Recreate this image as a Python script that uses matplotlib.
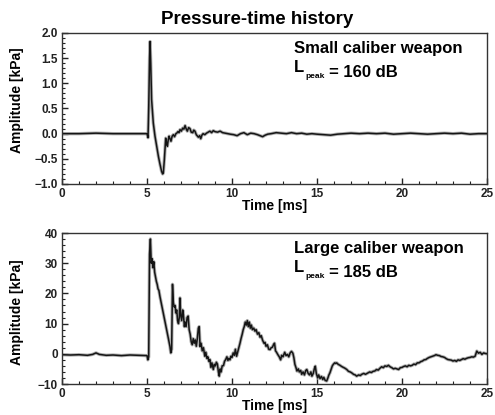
import matplotlib
matplotlib.use("Agg")
import matplotlib.pyplot as plt
from matplotlib.ticker import MultipleLocator

plt.rcParams["font.family"] = ["Liberation Sans", "DejaVu Sans"]
plt.rcParams["font.weight"] = "bold"

# small caliber weapon: time [ms], pressure [kPa]
t_small = [0.0, 1.0, 2.0, 3.0, 4.0, 5.0, 5.06, 5.1, 5.15, 5.18, 5.22, 5.27, 5.37,
           5.47, 5.57, 5.67, 5.76, 5.86, 5.92, 5.96, 6.02, 6.1, 6.15, 6.2, 6.25,
           6.3, 6.35, 6.41, 6.48, 6.55, 6.62, 6.7, 6.75, 6.82, 6.88, 6.94, 7.02,
           7.1, 7.17, 7.24, 7.3, 7.37, 7.45, 7.53, 7.6, 7.69, 7.75, 7.82, 7.9,
           8.02, 8.1, 8.16, 8.23, 8.3, 8.4, 8.5, 8.6, 8.7, 8.8, 8.9, 9.0, 9.15,
           9.3, 9.45, 9.6, 9.75, 9.9, 10.1, 10.3, 10.5, 10.7, 10.9, 11.1, 11.3,
           11.5, 11.65, 11.8, 11.95, 12.1, 12.3, 12.6, 12.9, 13.2, 13.5, 13.8,
           14.1, 14.4, 14.7, 15.0, 15.4, 15.8, 16.2, 16.6, 17.0, 17.5, 18.0,
           18.5, 19.0, 19.5, 20.0, 20.5, 21.0, 21.5, 22.0, 22.5, 23.0, 23.5,
           24.0, 24.5, 25.0]
p_small = [0.0, 0.0, 0.01, 0.0, 0.0, 0.0, -0.08, 0.5, 1.5, 1.83, 1.4, 0.68, 0.21,
           -0.05, -0.25, -0.45, -0.6, -0.75, -0.8, -0.78, -0.52, -0.09, -0.18,
           -0.25, -0.12, -0.05, -0.1, -0.15, -0.05, -0.02, -0.06, 0.0, 0.01,
           0.04, 0.02, 0.08, 0.05, 0.11, 0.09, 0.16, 0.1, 0.05, 0.12, 0.1, 0.03,
           0.02, 0.07, 0.05, -0.02, -0.07, -0.04, -0.1, -0.03, 0.0, -0.02, 0.01,
           0.03, 0.05, 0.02, 0.06, 0.04, 0.03, 0.05, 0.02, 0.01, 0.0, -0.01,
           -0.02, -0.04, 0.0, 0.02, -0.02, 0.01, 0.0, -0.02, -0.04, -0.06,
           -0.03, -0.01, 0.0, 0.02, 0.01, 0.0, 0.02, 0.0, 0.01, -0.01, 0.0,
           -0.01, -0.02, -0.03, -0.01, 0.0, 0.01, 0.0, 0.01, 0.0, 0.01, -0.01,
           0.0, 0.01, 0.0, -0.01, 0.0, 0.01, 0.0, 0.01, -0.01, 0.0, 0.0]

# large caliber weapon: time [ms], pressure [kPa]
t_large = [0.0, 0.5, 1.0, 1.5, 1.8, 2.0, 2.2, 2.6, 3.0, 3.5, 4.0, 4.5, 5.0, 5.05,
           5.1, 5.15, 5.2, 5.25, 5.3, 5.35, 5.4, 5.45, 5.5, 5.55, 5.6, 5.65, 5.7,
           5.76, 5.85, 5.96, 6.06, 6.16, 6.26, 6.35, 6.4, 6.45, 6.5, 6.55, 6.6,
           6.65, 6.7, 6.75, 6.8, 6.85, 6.9, 6.94, 6.98, 7.04, 7.1, 7.14, 7.2,
           7.24, 7.3, 7.36, 7.42, 7.48, 7.54, 7.6, 7.66, 7.72, 7.78, 7.84, 7.9,
           7.96, 8.02, 8.07, 8.12, 8.18, 8.25, 8.32, 8.4, 8.46, 8.52, 8.58, 8.64,
           8.7, 8.76, 8.82, 8.9, 8.96, 9.02, 9.08, 9.14, 9.2, 9.25, 9.3, 9.36,
           9.42, 9.5, 9.56, 9.62, 9.7, 9.76, 9.82, 9.88, 9.94, 10.0, 10.07,
           10.14, 10.2, 10.27, 10.33, 10.4, 10.47, 10.53, 10.6, 10.66, 10.72,
           10.78, 10.84, 10.9, 10.96, 11.02, 11.08, 11.14, 11.2, 11.28, 11.35,
           11.42, 11.5, 11.58, 11.65, 11.72, 11.8, 11.88, 11.94, 12.0, 12.08,
           12.16, 12.24, 12.3, 12.38, 12.44, 12.5, 12.56, 12.62, 12.7, 12.78,
           12.86, 12.92, 13.0, 13.1, 13.18, 13.26, 13.34, 13.42, 13.5, 13.58,
           13.64, 13.7, 13.76, 13.82, 13.9, 13.96, 14.04, 14.1, 14.18, 14.26,
           14.34, 14.4, 14.48, 14.56, 14.64, 14.7, 14.78, 14.84, 14.9, 14.96,
           15.04, 15.1, 15.18, 15.26, 15.34, 15.4, 15.48, 15.57, 15.64, 15.7,
           15.76, 15.84, 15.9, 15.96, 16.04, 16.1, 16.16, 16.25, 16.35, 16.45,
           16.55, 16.65, 16.75, 16.85, 16.95, 17.04, 17.15, 17.25, 17.33, 17.45,
           17.55, 17.63, 17.75, 17.85, 18.0, 18.1, 18.2, 18.3, 18.4, 18.5, 18.6,
           18.7, 18.8, 18.9, 19.0, 19.1, 19.2, 19.3, 19.4, 19.5, 19.6, 19.7,
           19.8, 19.9, 20.0, 20.1, 20.2, 20.3, 20.4, 20.5, 20.6, 20.7, 20.8,
           20.9, 21.0, 21.1, 21.2, 21.3, 21.4, 21.5, 21.6, 21.7, 21.8, 21.9,
           22.0, 22.1, 22.2, 22.3, 22.4, 22.5, 22.6, 22.7, 22.8, 22.9, 23.0,
           23.1, 23.2, 23.3, 23.4, 23.5, 23.6, 23.7, 23.8, 23.9, 24.0, 24.1,
           24.2, 24.3, 24.4, 24.5, 24.6, 24.7, 24.8, 24.9, 25.0]
p_large = [-0.3, -0.4, -0.3, -0.5, -0.2, 0.3, -0.2, -0.5, -0.4, -0.6, -0.4, -0.5,
           -0.6, -2.0, -1.0, 33.0, 38.0, 30.0, 31.5, 28.5, 30.5, 27.0, 25.5,
           24.0, 23.0, 21.5, 21.0, 19.0, 16.5, 13.5, 10.5, 8.0, 5.0, 2.4, 0.3,
           1.5, 23.0, 17.0, 15.5, 16.0, 13.5, 14.5, 11.0, 10.0, 12.0, 18.5, 13.0,
           11.0, 14.5, 13.0, 9.0, 10.5, 9.0, 12.0, 12.5, 8.0, 6.5, 4.0, 3.0, 5.0,
           3.5, 4.6, 2.5, 5.0, 8.5, 9.0, 2.4, 3.5, 1.0, 2.0, -0.8, 0.5, -1.5,
           -1.0, -2.5, -1.9, -4.5, -3.0, -5.2, -3.5, -4.0, -2.8, -3.4, -6.0,
           -7.4, -5.0, -6.0, -4.0, -3.9, -2.5, -2.0, -1.0, -2.2, -1.5, -2.0,
           -0.8, -1.2, 0.3, -0.5, 1.5, -0.8, 0.5, 2.0, 3.5, 5.0, 6.5, 8.0, 9.0,
           10.5, 9.5, 11.0, 9.0, 10.5, 8.5, 9.5, 8.0, 8.5, 7.5, 8.0, 6.5, 7.0,
           5.5, 6.0, 4.5, 3.5, 3.8, 2.5, 3.0, 1.5, 1.4, 2.0, 2.2, 3.0, 3.5, 1.0,
           0.5, -0.3, -1.0, -2.0, -0.5, -1.0, 0.5, -0.6, -0.2, -1.0, 0.3, 0.8,
           0.2, -1.3, -3.5, -4.5, -5.7, -5.0, -6.0, -5.5, -6.8, -6.0, -7.0,
           -5.5, -5.2, -6.5, -7.0, -6.0, -7.4, -6.5, -5.0, -4.1, -6.5, -8.0,
           -7.0, -8.2, -7.5, -8.5, -7.8, -8.8, -9.0, -8.0, -7.0, -6.3, -5.0,
           -4.0, -3.5, -3.0, -3.2, -3.0, -3.5, -3.8, -4.2, -4.5, -4.8, -5.2,
           -5.8, -6.0, -6.3, -6.8, -7.0, -7.4, -7.0, -7.2, -6.8, -6.5, -6.8,
           -6.3, -6.0, -6.2, -5.8, -5.7, -5.2, -5.4, -4.8, -4.3, -4.6, -4.0,
           -4.2, -3.8, -4.3, -4.6, -5.0, -4.8, -5.0, -5.2, -4.6, -4.5, -4.2,
           -4.0, -4.3, -3.8, -4.0, -3.8, -3.4, -3.6, -3.0, -3.0, -2.6, -2.4,
           -2.0, -1.9, -1.5, -1.2, -1.0, -0.8, -0.6, -0.3, -0.5, -0.6, -0.9,
           -1.0, -1.2, -1.6, -1.9, -2.0, -2.1, -2.4, -2.2, -2.5, -2.0, -2.2,
           -1.9, -1.6, -1.8, -1.5, -1.3, -1.2, -1.0, -1.1, -0.8, 0.9, 0.2, 0.5,
           -0.2, 0.3, 0.1, 0.0]

panels = [
    (t_small, p_small, (-1.0, 2.0), 0.5, 0.1, "Small caliber weapon", "160 dB", 0.556),
    (t_large, p_large, (-10, 40), 10, 2, "Large caliber weapon", "185 dB", 0.473),
]

fig = plt.figure(figsize=(4.95, 4.15), dpi=100)
W, H = 495, 415
boxes = [(62, 33, 487, 184), (62, 233, 487, 384)]

for (t, p, ylim, ymaj, ymin, name, lpeak, ylab_y), (x0, y0, x1, y1) in zip(panels, boxes):
    ax = fig.add_axes([x0 / W, 1 - y1 / H, (x1 - x0) / W, (y1 - y0) / H])
    ax.plot(t, p, color="#b0b0b0", lw=2.4, solid_joinstyle="round")
    ax.plot(t, p, color="#151515", lw=1.1, solid_joinstyle="round")
    ax.set_xlim(0, 25)
    ax.set_ylim(*ylim)
    ax.xaxis.set_major_locator(MultipleLocator(5))
    ax.xaxis.set_minor_locator(MultipleLocator(1))
    ax.yaxis.set_major_locator(MultipleLocator(ymaj))
    ax.yaxis.set_minor_locator(MultipleLocator(ymin))
    ax.tick_params(which="both", direction="in", top=False, right=False,
                   labelsize=8.5, colors="#222222")
    ax.tick_params(which="major", length=4, width=1, pad=3)
    ax.tick_params(which="minor", length=2.2, width=0.8)
    for lab in ax.get_xticklabels() + ax.get_yticklabels():
        lab.set_fontweight("bold")
    for s in ax.spines.values():
        s.set_linewidth(1.0)
        s.set_color("#333333")
    ax.set_xlabel("Time [ms]", fontsize=10, fontweight="bold", labelpad=-1)
    ax.set_ylabel("Amplitude [kPa]", fontsize=10, fontweight="bold")
    ax.yaxis.set_label_coords(-0.089, ylab_y)
    ax.text(0.546, 0.87, name, transform=ax.transAxes, fontsize=12,
            fontweight="bold", va="baseline")
    # L_peak with a small subscript, then the level
    t_l = ax.text(0.546, 0.743, "L", transform=ax.transAxes, fontsize=12,
                  fontweight="bold", va="baseline")
    t_sub = ax.annotate("peak", xy=(1, 0), xycoords=t_l, xytext=(0.5, -2.5),
                        textcoords="offset points", fontsize=6, fontweight="bold",
                        va="baseline")
    ax.annotate("= " + lpeak, xy=(1, 0), xycoords=t_sub, xytext=(3, 2.5),
                textcoords="offset points", fontsize=12, fontweight="bold",
                va="baseline")

fig.text(0.519, 1 - 24 / H, "Pressure-time history", fontsize=13.5,
         fontweight="bold", ha="center", va="baseline")

fig.savefig("out.png", dpi=100)
